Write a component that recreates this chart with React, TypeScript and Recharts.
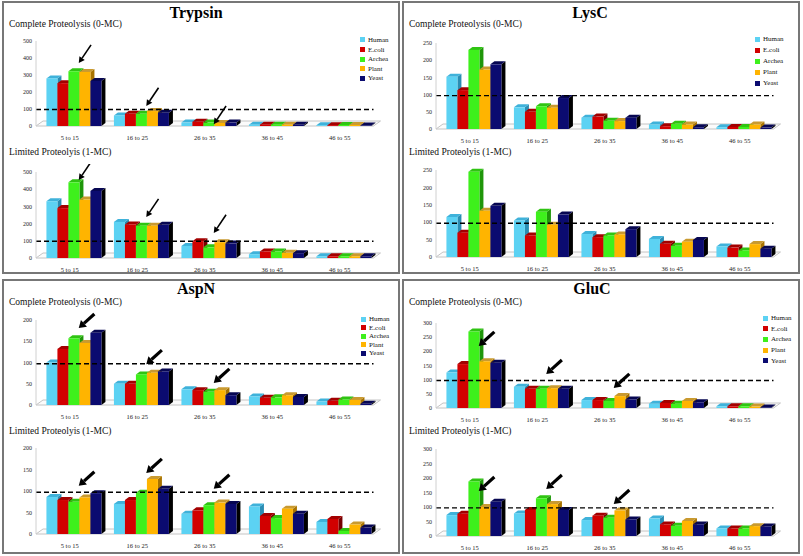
import React from "react";
import {
  BarChart,
  Bar,
  XAxis,
  YAxis,
  ReferenceLine,
  ReferenceArea,
  ReferenceDot,
  Legend,
} from "recharts";

const serif = '"Liberation Serif", "Times New Roman", serif';

const ranges = ["5 to 15", "16 to 25", "26 to 35", "36 to 45", "46 to 55"];
const organisms = ["Human", "E.coli", "Archea", "Plant", "Yeast"];

// rows follow organisms, columns follow ranges
const trypsinComplete = [
  [280, 62, 20, 8, 5],
  [252, 72, 25, 8, 5],
  [322, 72, 20, 8, 6],
  [318, 88, 18, 8, 6],
  [265, 78, 20, 7, 3],
];
const trypsinLimited = [
  [330, 210, 70, 22, 10],
  [290, 195, 98, 38, 10],
  [440, 188, 62, 38, 10],
  [340, 188, 92, 30, 10],
  [390, 193, 84, 28, 10],
];
const lyscComplete = [
  [152, 63, 33, 13, 5],
  [113, 50, 36, 8, 6],
  [230, 66, 24, 15, 6],
  [173, 62, 23, 13, 13],
  [188, 90, 33, 5, 4],
];
const lyscLimited = [
  [115, 105, 66, 52, 30],
  [70, 62, 57, 38, 27],
  [245, 130, 62, 32, 19],
  [133, 93, 65, 44, 37],
  [147, 122, 80, 49, 24],
];
const aspnComplete = [
  [100, 50, 37, 20, 8],
  [132, 50, 35, 17, 10],
  [157, 72, 31, 18, 13],
  [146, 76, 35, 23, 12],
  [170, 79, 23, 19, 3],
];
const aspnLimited = [
  [86, 70, 47, 64, 28],
  [79, 79, 55, 42, 35],
  [75, 96, 67, 37, 7],
  [85, 128, 73, 59, 22],
  [95, 105, 70, 47, 15],
];
const glucComplete = [
  [125, 75, 28, 15, 6],
  [155, 68, 28, 18, 6],
  [270, 68, 25, 15, 6],
  [165, 70, 42, 25, 5],
  [160, 68, 30, 20, 2],
];
const glucLimited = [
  [72, 78, 55, 60, 26],
  [77, 90, 70, 40, 26],
  [188, 130, 63, 35, 26],
  [100, 110, 88, 52, 34],
  [118, 90, 57, 40, 33],
];

const ticks500 = [0, 100, 200, 300, 400, 500];
const ticks250 = [0, 50, 100, 150, 200, 250];
const ticks200 = [0, 50, 100, 150, 200];
const ticks300 = [0, 50, 100, 150, 200, 250, 300];

const threshold = 97;

// arrow annotations: [range, value the tip points at]
const trypsinCompleteArrows: [string, number][] = [["5 to 15", 370], ["16 to 25", 118], ["26 to 35", 10]];
const trypsinLimitedArrows: [string, number][] = [["5 to 15", 453], ["16 to 25", 238], ["26 to 35", 145]];
const aspnCompleteArrows: [string, number][] = [["5 to 15", 181], ["16 to 25", 96], ["26 to 35", 52]];
const aspnLimitedArrows: [string, number][] = [["5 to 15", 112], ["16 to 25", 142], ["26 to 35", 105]];
const glucCompleteArrows: [string, number][] = [["5 to 15", 219], ["16 to 25", 120], ["26 to 35", 71]];
const glucLimitedArrows: [string, number][] = [["5 to 15", 155], ["16 to 25", 162], ["26 to 35", 110]];

const colors = [
  { front: "#5cd2f3", top: "#3fb2da", side: "#2a8db3" },
  { front: "#d20000", top: "#a30000", side: "#760000" },
  { front: "#3ef01c", top: "#2fc412", side: "#1f960a" },
  { front: "#ffb400", top: "#c99a30", side: "#a87300" },
  { front: "#0b0b70", top: "#070752", side: "#000000" },
];

const makeBar = (c: { front: string; top: string; side: string }) => (p: any) => {
  const { x, y, width, height } = p;
  if (x == null || y == null || !width) return <g />;
  const x0 = x + 3;
  const d = 4;
  const e = 3;
  const h = Math.max(height, 0);
  return (
    <g>
      <polygon
        points={`${x0 + width},${y} ${x0 + width + d},${y - e} ${x0 + width + d},${y + h - e} ${x0 + width},${y + h}`}
        fill={c.side}
      />
      <polygon
        points={`${x0},${y} ${x0 + d},${y - e} ${x0 + width + d},${y - e} ${x0 + width},${y}`}
        fill={c.top}
      />
      <rect x={x0} y={y} width={width} height={h} fill={c.front} />
    </g>
  );
};

const barShapes = colors.map((c) => makeBar(c));

const Floor = (p: any) => {
  const { x, y, width, height } = p;
  const y0 = y + (height || 0);
  return (
    <polygon
      points={`${x},${y0} ${x + 7},${y0 - 5} ${x + width + 7},${y0 - 5} ${x + width},${y0}`}
      fill="#fbfbfb"
      stroke="#c4c4c4"
      strokeWidth={1}
    />
  );
};

const Arrow = ({ cx, cy, bold }: any) => {
  if (cx == null || cy == null) return <g />;
  const tx = cx + 9;
  const ty = cy;
  const ang = ((bold ? 42 : 56) * Math.PI) / 180;
  const len = bold ? 21 : 22;
  const ux = Math.cos(ang);
  const uy = -Math.sin(ang);
  const hl = bold ? 7 : 6;
  const hw = bold ? 4.5 : 3.2;
  const bx = tx + ux * hl;
  const by = ty + uy * hl;
  const px = -uy;
  const py = ux;
  return (
    <g>
      <line
        x1={bx}
        y1={by}
        x2={tx + ux * len}
        y2={ty + uy * len}
        stroke="#000"
        strokeWidth={bold ? 3.2 : 1.6}
      />
      <polygon
        points={`${tx},${ty} ${bx + px * hw},${by + py * hw} ${bx - px * hw},${by - py * hw}`}
        fill="#000"
      />
    </g>
  );
};

type LegendPos = { x: number; y: number; gap: number };

type SubProps = {
  rows: number[][];
  ticks: number[];
  plotTop: number;
  plotBottom: number;
  arrows?: [string, number][];
  bold?: boolean;
  legend?: LegendPos;
};

const innerW = 394;
const topPad = 8;
const axisH = 18;

const SubChart: React.FC<SubProps> = ({ rows, ticks, plotTop, plotBottom, arrows = [], bold, legend }) => {
  const data = ranges.map((r, i) => {
    const row: Record<string, string | number> = { range: r };
    organisms.forEach((o, k) => {
      row[o] = rows[k][i];
    });
    return row;
  });
  const chartTop = plotTop - topPad;
  const max = ticks[ticks.length - 1];
  return (
    <div style={{ position: "absolute", left: 0, top: chartTop }}>
      <BarChart
        width={innerW}
        height={plotBottom - plotTop + topPad + axisH}
        data={data}
        margin={{ top: topPad, right: 24.5, left: 0, bottom: 0 }}
        barCategoryGap="11%"
        barGap={0}
      >
        <ReferenceArea y1={0} y2={0} shape={Floor} ifOverflow="visible" />
        <XAxis
          dataKey="range"
          axisLine={false}
          tickLine={false}
          tickSize={0}
          tickMargin={9}
          height={axisH}
          interval={0}
          tick={{ fontSize: 6.5, fill: "#222", fontFamily: serif }}
        />
        <YAxis
          width={32}
          domain={[0, max]}
          ticks={ticks}
          axisLine={{ stroke: "#d0d0d0" }}
          tickLine={false}
          tickSize={0}
          tickMargin={4}
          tick={{ fontSize: 6, fill: "#222", fontFamily: serif }}
        />
        {organisms.map((o, k) => (
          <Bar
            key={o}
            dataKey={o}
            name={o}
            fill={colors[k].front}
            shape={barShapes[k]}
            isAnimationActive={false}
          />
        ))}
        <ReferenceLine
          y={threshold}
          stroke="#000"
          strokeDasharray="5 3"
          strokeWidth={1.4}
          ifOverflow="visible"
        />
        {arrows.map(([cat, v]) => (
          <ReferenceDot
            key={cat}
            x={cat}
            y={v}
            ifOverflow="visible"
            shape={(p: any) => <Arrow {...p} bold={bold} />}
          />
        ))}
        {legend && (
          <Legend
            layout="vertical"
            align="center"
            verticalAlign="middle"
            wrapperStyle={{
              left: legend.x,
              top: legend.y - chartTop - legend.gap / 2,
              width: "auto",
              height: "auto",
            }}
            content={(props: any) => {
              const items = [...(props.payload || [])].sort(
                (a: any, b: any) => organisms.indexOf(a.value) - organisms.indexOf(b.value)
              );
              return (
                <div style={{ fontFamily: serif, fontSize: 7, color: "#111" }}>
                  {items.map((e: any) => (
                    <div
                      key={e.value}
                      style={{ display: "flex", alignItems: "center", height: legend.gap, whiteSpace: "nowrap" }}
                    >
                      <span
                        style={{ display: "inline-block", width: 5, height: 5, background: e.color, marginRight: 3 }}
                      />
                      {e.value}
                    </div>
                  ))}
                </div>
              );
            }}
          />
        )}
      </BarChart>
    </div>
  );
};

type PanelProps = {
  left: number;
  top: number;
  height: number;
  title: string;
  titleY: number;
  titleX: number;
  children: React.ReactNode;
};

const Panel: React.FC<PanelProps> = ({ left, top, height, title, titleY, titleX, children }) => (
  <div
    style={{
      position: "absolute",
      left,
      top,
      width: 398,
      height,
      border: "2px solid #777",
      boxSizing: "border-box",
      background: "#fff",
    }}
  >
    <div
      style={{
        position: "absolute",
        left: titleX - 100,
        width: 200,
        top: titleY - 10,
        height: 20,
        lineHeight: "20px",
        textAlign: "center",
        fontFamily: serif,
        fontWeight: "bold",
        fontSize: 16,
        color: "#000",
      }}
    >
      {title}
    </div>
    {children}
  </div>
);

const Sub: React.FC<{ y: number; text: string }> = ({ y, text }) => (
  <div
    style={{
      position: "absolute",
      left: 5,
      top: y - 7,
      height: 14,
      lineHeight: "14px",
      fontFamily: serif,
      fontSize: 9.5,
      color: "#111",
      whiteSpace: "nowrap",
    }}
  >
    {text}
  </div>
);

export default function App() {
  return (
    <div style={{ position: "absolute", left: 0, top: 0, width: 803, height: 556, background: "#fff" }}>
      <Panel left={2} top={1} height={273} title="Trypsin" titleX={192} titleY={10}>
        <Sub y={21} text="Complete Proteolysis (0-MC)" />
        <SubChart
          rows={trypsinComplete}
          ticks={ticks500}
          plotTop={38}
          plotBottom={123}
          arrows={trypsinCompleteArrows}
          legend={{ x: 356, y: 37, gap: 9.6 }}
        />
        <Sub y={149} text="Limited Proteolyis (1-MC)" />
        <SubChart
          rows={trypsinLimited}
          ticks={ticks500}
          plotTop={169}
          plotBottom={255}
          arrows={trypsinLimitedArrows}
        />
      </Panel>
      <Panel left={402} top={1} height={273} title="LysC" titleX={186} titleY={10}>
        <Sub y={21} text="Complete Proteolysis (0-MC)" />
        <SubChart
          rows={lyscComplete}
          ticks={ticks250}
          plotTop={40}
          plotBottom={126}
          legend={{ x: 351, y: 36, gap: 11 }}
        />
        <Sub y={149} text="Limited Proteolyis (1-MC)" />
        <SubChart rows={lyscLimited} ticks={ticks250} plotTop={167} plotBottom={254} />
      </Panel>
      <Panel left={2} top={279} height={275} title="AspN" titleX={192} titleY={8}>
        <Sub y={21} text="Complete Proteolysis (0-MC)" />
        <SubChart
          rows={aspnComplete}
          ticks={ticks200}
          plotTop={39}
          plotBottom={124}
          arrows={aspnCompleteArrows}
          bold
          legend={{ x: 357, y: 38, gap: 8.5 }}
        />
        <Sub y={150} text="Limited Proteolyis (1-MC)" />
        <SubChart
          rows={aspnLimited}
          ticks={ticks200}
          plotTop={167}
          plotBottom={253}
          arrows={aspnLimitedArrows}
          bold
        />
      </Panel>
      <Panel left={402} top={279} height={275} title="GluC" titleX={188} titleY={8}>
        <Sub y={21} text="Complete Proteolysis (0-MC)" />
        <SubChart
          rows={glucComplete}
          ticks={ticks300}
          plotTop={42}
          plotBottom={127}
          arrows={glucCompleteArrows}
          bold
          legend={{ x: 359, y: 37, gap: 10.7 }}
        />
        <Sub y={150} text="Limited Proteolyis (1-MC)" />
        <SubChart
          rows={glucLimited}
          ticks={ticks300}
          plotTop={168}
          plotBottom={255}
          arrows={glucLimitedArrows}
          bold
        />
      </Panel>
    </div>
  );
}
